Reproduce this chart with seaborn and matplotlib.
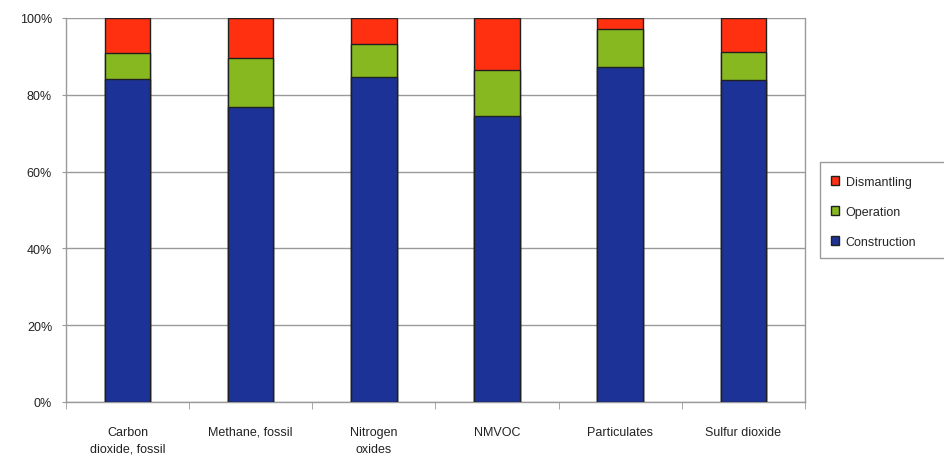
import matplotlib
matplotlib.use("Agg")
import matplotlib.pyplot as plt
import seaborn as sns
import pandas as pd
import numpy as np
from matplotlib.patches import Patch, Rectangle

categories = ["Carbon\ndioxide, fossil", "Methane, fossil", "Nitrogen\noxides",
              "NMVOC", "Particulates", "Sulfur dioxide"]
construction = [84.1, 76.7, 84.7, 74.4, 87.3, 83.9]
operation = [6.8, 12.8, 8.5, 12.1, 9.8, 7.2]
dismantling = [9.1, 10.5, 6.8, 13.5, 2.9, 8.9]
yticks = [0, 20, 40, 60, 80, 100]
ytick_labels = ["0%", "20%", "40%", "60%", "80%", "100%"]

sns.set_style("white")
plt.rcParams['font.family'] = ['Liberation Sans', 'DejaVu Sans']

c_red = "#FF3010"
c_green = "#88B820"
c_blue = "#1C3296"

df = pd.DataFrame({
    "cat": categories,
    "construction": construction,
    "operation": operation,
    "dismantling": dismantling,
})
df["lvl2"] = df["construction"] + df["operation"]
df["lvl3"] = df["lvl2"] + df["dismantling"]

fig = plt.figure(figsize=(9.45, 4.6), dpi=100)
ax = fig.add_axes([0.0698, 0.124, 0.782, 0.835])

for col, color in [("lvl3", c_red), ("lvl2", c_green), ("construction", c_blue)]:
    sns.barplot(data=df, x="cat", y=col, color=color, width=0.37, ax=ax,
                edgecolor="#202020", linewidth=1.0, saturation=1, zorder=3)

ax.set_ylim(0, 100)
ax.set_xlim(-0.5, 5.5)
ax.set_yticks(yticks)
ax.set_yticklabels(ytick_labels, fontsize=9, color="#222222")
ax.yaxis.grid(True, color="#9a9a9a", linewidth=1.0, zorder=0)
ax.set_axisbelow(True)
ax.set_xlabel("")
ax.set_ylabel("")
ax.tick_params(axis="x", length=0, labelsize=9, labelcolor="#222222", pad=17)
for lbl in ax.get_xticklabels():
    lbl.set_linespacing(1.6)
ax.tick_params(axis="y", length=3, color="#9a9a9a", left=True, pad=7)
ax.set_xticks(np.arange(-0.5, 6, 1.0), minor=True)
ax.tick_params(axis="x", which="minor", length=5, color="#9a9a9a", bottom=True)
for s in ["left", "bottom", "right"]:
    ax.spines[s].set_visible(True)
    ax.spines[s].set_color("#9a9a9a")
    ax.spines[s].set_linewidth(1.0)
ax.spines["top"].set_visible(False)

# legend frame extends past the right edge, as in the reference
fig.patches.append(Rectangle((820 / 945, 1 - 259 / 460), 0.2, 96 / 460,
                             transform=fig.transFigure, facecolor="white",
                             edgecolor="#9a9a9a", linewidth=1.0, zorder=1))

handles = [Patch(facecolor=c_red, edgecolor="#202020", label="Dismantling"),
           Patch(facecolor=c_green, edgecolor="#202020", label="Operation"),
           Patch(facecolor=c_blue, edgecolor="#202020", label="Construction")]
leg = fig.legend(handles=handles, loc="upper left",
                 bbox_to_anchor=(822 / 945, 1 - 168 / 460),
                 fontsize=9, frameon=False,
                 handlelength=0.7, handleheight=0.7, handletextpad=0.5,
                 borderpad=0.2, labelspacing=1.45)

fig.savefig("out.png", dpi=100)
